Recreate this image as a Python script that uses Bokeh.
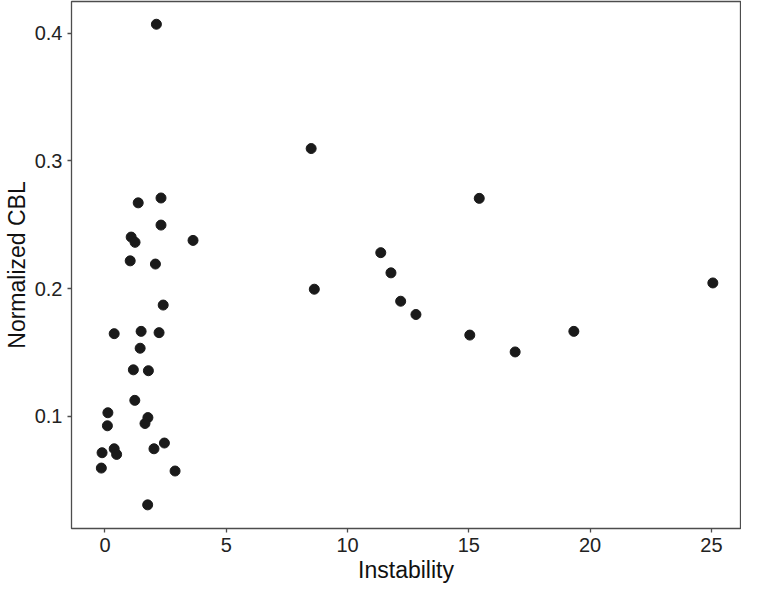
from bokeh.plotting import figure
from bokeh.models import Range1d, FixedTicker
from bokeh.embed import file_html
from bokeh.resources import INLINE

instability = [2.12, 8.50, 15.43, 1.37, 2.31, 2.31, 1.08, 1.24, 3.63, 1.04,
               2.08, 11.37, 11.79, 8.63, 25.06, 12.19, 12.82, 2.40, 15.04, 19.33,
               16.91, 0.38, 1.49, 2.23, 1.45, 1.17, 1.79, 1.23, 0.12, 0.10,
               1.77, 1.65, 2.45, 0.38, 0.48, -0.12, 2.02, -0.15, 2.89, 1.76]
norm_cbl = [0.4069, 0.3096, 0.2706, 0.2671, 0.2709, 0.2497, 0.2403, 0.2362, 0.2377, 0.2217,
            0.2192, 0.2281, 0.2123, 0.1995, 0.2044, 0.1901, 0.1797, 0.1871, 0.1636, 0.1665,
            0.1504, 0.1647, 0.1665, 0.1655, 0.1533, 0.1364, 0.1357, 0.1125, 0.1028, 0.0926,
            0.0990, 0.0944, 0.0791, 0.0746, 0.0702, 0.0715, 0.0746, 0.0595, 0.0572, 0.0307]

x_ticks = [0, 5, 10, 15, 20, 25]
y_ticks = [0.1, 0.2, 0.3, 0.4]

FONT = "Liberation Sans"

p = figure(width=741, height=585, output_backend="svg", toolbar_location=None,
           x_range=Range1d(-1.38, 26.2), y_range=Range1d(0.0122, 0.4247),
           min_border_left=0, min_border_right=1, min_border_top=1, min_border_bottom=0)

p.scatter(instability, norm_cbl, size=10, color="#1a1a1a", line_color="#1a1a1a")

p.xgrid.visible = False
p.ygrid.visible = False
p.outline_line_color = "#4d4d4d"
p.outline_line_width = 1.3
p.background_fill_color = "white"
p.border_fill_color = "white"

for ax in (p.xaxis[0], p.yaxis[0]):
    ax.axis_line_color = None
    ax.major_tick_line_color = "#4d4d4d"
    ax.major_tick_line_width = 1.3
    ax.major_tick_out = 4
    ax.major_tick_in = 0
    ax.minor_tick_line_color = None
    ax.major_label_text_font = FONT
    ax.major_label_text_font_size = "20px"
    ax.major_label_text_color = "#222222"
    ax.axis_label_text_font = FONT
    ax.axis_label_text_font_size = "23px"
    ax.axis_label_text_font_style = "normal"
    ax.axis_label_text_color = "#111111"

p.xaxis[0].major_label_standoff = 5
p.xaxis[0].axis_label_standoff = 2
p.yaxis[0].major_label_standoff = 5
p.yaxis[0].axis_label_standoff = 2

p.xaxis[0].ticker = FixedTicker(ticks=x_ticks)
p.yaxis[0].ticker = FixedTicker(ticks=y_ticks)
p.xaxis[0].axis_label = "Instability"
p.yaxis[0].axis_label = "Normalized CBL"

open("out.html", "w").write(file_html(p, INLINE))
